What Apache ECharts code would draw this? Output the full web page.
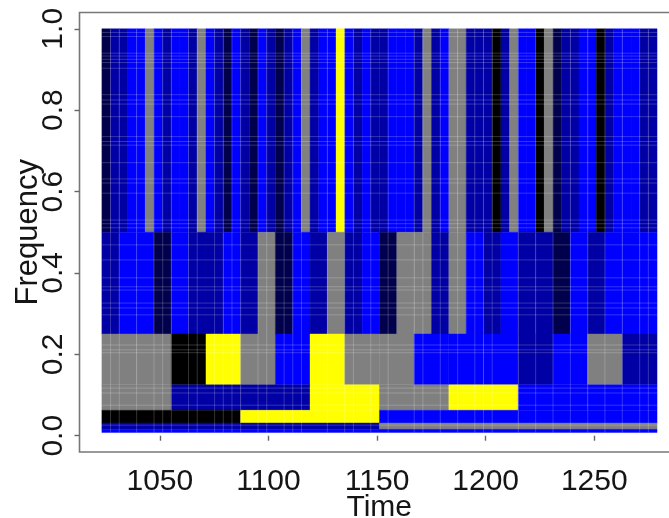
<!DOCTYPE html>
<html>
<head>
<meta charset="utf-8">
<style>html,body{margin:0;padding:0;background:#fff;overflow:hidden}#c{width:669px;height:518px}</style>
<script src="https://cdn.jsdelivr.net/npm/echarts@6/dist/echarts.min.js"></script>
</head>
<body>
<div id="c"></div>
<script>
// colour classes, lowest to highest: K black, N navy, D dark blue, B blue, G grey, Y yellow
var band1 = 'N D D B B G B D B B D G B D N B D N B D N D B G D B B Y B D B D D B B B D G D B G G D D D K D G B B K G N D D B B K D B B B D D'.split(' ');
var band2 = 'D B B N B D D B D G N B D G D B N G G D G B D B D D N B D B B B'.split(' ');
var band3 = 'G G K Y G B Y G G B B B D B G D'.split(' ');
var band4 = 'G D D Y G Y B B'.split(' ');
var band5 = 'K Y B B'.split(' ');
var band6 = 'D G'.split(' ');
var band7 = 'B'.split(' ');
var bands = [band1, band2, band3, band4, band5, band6, band7];
var freqEdges = [1, 0.5, 0.25, 0.125, 0.0625, 0.03125, 0.015625, 0.0078125];
var timeRange = [1023.3, 1278.9];
var xTicks = [1050, 1100, 1150, 1200, 1250];
var yTicks = [0, 0.2, 0.4, 0.6, 0.8, 1];
var seamTimes = [1027.3,1031.3,1039.3,1047.3,1051.3,1055.3,1063.2,1067.2,1075.2,1079.2,1083.2,1087.2,1095.2,1099.2,1107.2,1111.2,1115.2,1127.1,1135.1,1139.1,1147.1,1155.1,1167.1,1171.1,1179.1,1187.1,1195.0,1199.0,1203.0,1215.0,1223.0,1231.0,1239.0,1247.0,1254.9,1262.9,1270.9,1274.9];
var seamFreqs = [.991,.981,.940,.933,.925,.917,.903,.838,.825,.815,.784,.735,.723,.714,.671,.631,.621,.596,.530,.521,.511,.469,.432,.388,.366,.358,.326,.314,.297,.223,.211,.204,.117,.105,.075,.026];

var palette = {K:'#000000', N:'#00004c', D:'#0000a4', B:'#0000ff', G:'#808080', Y:'#ffff00'};

var cells = [];
bands.forEach(function (band, b) {
  var w = (timeRange[1] - timeRange[0]) / band.length;
  band.forEach(function (lev, i) {
    cells.push([timeRange[0] + i * w, timeRange[0] + (i + 1) * w, freqEdges[b + 1], freqEdges[b], lev]);
  });
});

var chart = echarts.init(document.getElementById('c'), null, {renderer: 'canvas'});
var textColor = '#151515', axisColor = '#666666';
var seamStroke = 'rgba(255,255,255,0.2)';
chart.setOption({
  animation: false,
  backgroundColor: '#ffffff',
  grid: {left: 79.5, top: 12.5, width: 599.5, height: 439.5, show: true, borderColor: '#777777', borderWidth: 1.6, backgroundColor: 'transparent', containLabel: false, outerBoundsMode: 'none'},
  xAxis: {
    type: 'value', min: 1013, max: 1289, name: 'Time', nameLocation: 'middle', nameGap: 41, nameMoveOverlap: false,
    nameTextStyle: {fontFamily: 'Liberation Sans', fontSize: 30, color: textColor},
    axisLine: {show: false}, splitLine: {show: false},
    axisTick: {show: true, length: 5, customValues: xTicks, lineStyle: {color: axisColor, width: 1.4}},
    axisLabel: {customValues: xTicks, margin: 15, fontFamily: 'Liberation Sans', fontSize: 30, color: textColor,
      formatter: function (v) { return String(v); }}
  },
  yAxis: {
    type: 'value', min: -0.04, max: 1.04, name: 'Frequency', nameLocation: 'middle', nameGap: 36, nameMoveOverlap: false,
    nameTextStyle: {fontFamily: 'Liberation Sans', fontSize: 31, color: textColor},
    axisLine: {show: false}, splitLine: {show: false},
    axisTick: {show: true, length: 5, customValues: yTicks, lineStyle: {color: axisColor, width: 1.4}},
    axisLabel: {customValues: yTicks, rotate: 90, margin: 11, fontFamily: 'Liberation Sans', fontSize: 30, color: textColor,
      formatter: function (v) { return v.toFixed(1); }}
  },
  series: [
    {
      type: 'custom', data: cells, encode: {x: [0, 1], y: [2, 3]}, silent: true, clip: false,
      renderItem: function (params, api) {
        var a = api.coord([api.value(0), api.value(3)]);
        var b = api.coord([api.value(1), api.value(2)]);
        return {type: 'rect', shape: {x: a[0], y: a[1], width: b[0] - a[0], height: b[1] - a[1]},
          style: {fill: palette[cells[params.dataIndex][4]], stroke: palette[cells[params.dataIndex][4]], lineWidth: 0.4}};
      }
    },
    {
      type: 'custom', data: seamTimes.map(function (t) { return [t]; }), encode: {x: 0}, silent: true, z: 3,
      renderItem: function (params, api) {
        var a = api.coord([api.value(0), freqEdges[0]]);
        var b = api.coord([api.value(0), freqEdges[freqEdges.length - 1]]);
        return {type: 'line', shape: {x1: a[0], y1: a[1], x2: b[0], y2: b[1]}, style: {stroke: seamStroke, lineWidth: 1}};
      }
    },
    {
      type: 'custom', data: seamFreqs.map(function (f) { return [f]; }), encode: {y: 0}, silent: true, z: 3,
      renderItem: function (params, api) {
        var a = api.coord([timeRange[0], api.value(0)]);
        var b = api.coord([timeRange[1], api.value(0)]);
        return {type: 'line', shape: {x1: a[0], y1: a[1], x2: b[0], y2: b[1]}, style: {stroke: seamStroke, lineWidth: 1}};
      }
    }
  ]
});
</script>
</body>
</html>
